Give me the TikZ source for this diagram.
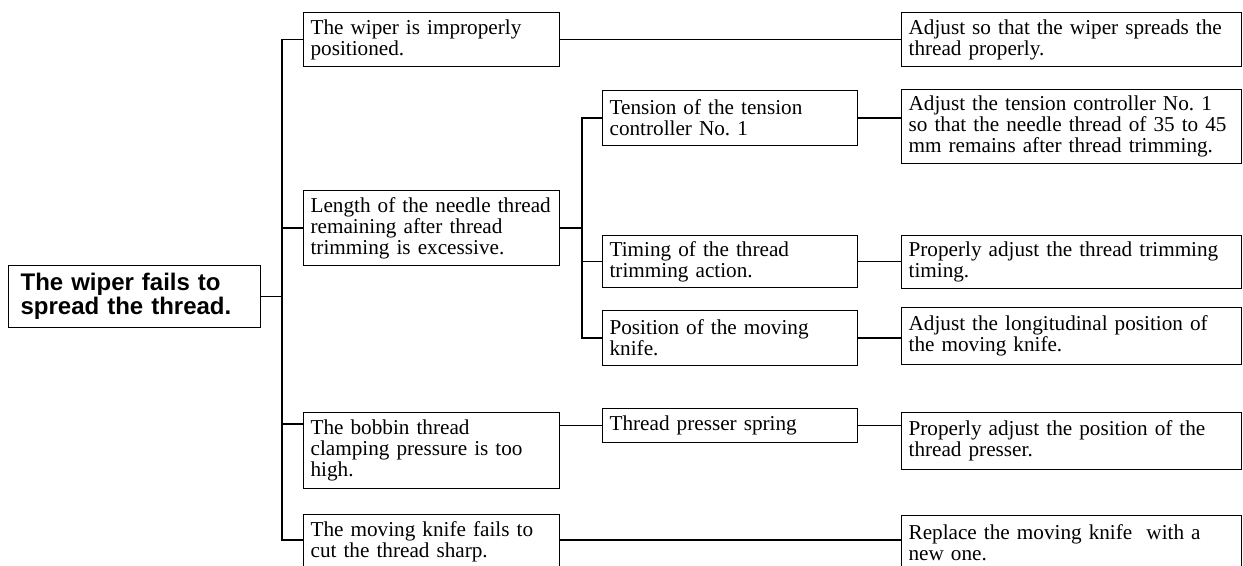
\documentclass[tikz,border=0pt]{standalone}
\usepackage{fontspec}
\setmainfont{Liberation Serif}
\newfontfamily\headfont{Liberation Sans}
\usetikzlibrary{positioning}
\frenchspacing

\begin{document}
\begin{tikzpicture}[x=0.5pt, y=-0.5pt, line width=0.6pt,
    box/.style={draw, anchor=north west, align=left, inner xsep=3.5pt, inner ysep=0pt,
      font=\fontsize{10.6}{10.5}\selectfont},
    cause/.style={box, text width=121pt},
    check/.style={box, text width=120.5pt},
    remedy/.style={box, text width=163pt, inner xsep=3.5pt},
    fault/.style={box, text width=114pt, inner xsep=6pt,
      font=\headfont\bfseries\fontsize{12}{11}\selectfont}]
    \useasboundingbox (0,0) rectangle (1243,566);

    % Nodes
    \node[fault, minimum height=31pt] (fault) at (8,265) {The wiper fails to\\spread the thread.};

    \node[cause, minimum height=27pt] (wiper) at (303,12) {The wiper is improperly\\positioned.};
    \node[cause, minimum height=37.5pt] (length) at (303,190) {Length of the needle thread\\remaining after thread\\trimming is excessive.};
    \node[cause, minimum height=38pt] (bobbin) at (303,412) {The bobbin thread\\clamping pressure is too\\high.};
    \node[cause, minimum height=27pt] (knife) at (303,514) {The moving knife fails to\\cut the thread sharp.};

    \node[check, minimum height=27.5pt] (tension) at (602,90) {Tension of the tension\\controller No. 1};
    \node[check, minimum height=26pt] (timing) at (602,235) {Timing of the thread\\trimming action.};
    \node[check, minimum height=27.5pt] (position) at (602,310) {Position of the moving\\knife.};
    \node[check, minimum height=17pt] (spring) at (602,408) {Thread presser spring};

    \node[remedy, minimum height=27pt] (fixwiper) at (901,12) {Adjust so that the wiper spreads the\\thread properly.};
    \node[remedy, minimum height=37pt] (fixtension) at (901,89) {Adjust the tension controller No. 1\\so that the needle thread of 35 to 45\\mm remains after thread trimming.};
    \node[remedy, minimum height=26.5pt] (fixtiming) at (901,235) {Properly adjust the thread trimming\\timing.};
    \node[remedy, minimum height=28.5pt] (fixposition) at (901,307) {Adjust the longitudinal position of\\the moving knife.};
    \node[remedy, minimum height=28.5pt] (fixspring) at (901,412) {Properly adjust the position of the\\thread presser.};
    \node[remedy, minimum height=27pt] (fixknife) at (901,515) {Replace the moving knife~ with a\\new one.};

    % Trunk lines
    \coordinate (trunk) at (282,0);
    \coordinate (sub) at (582,0);
    \coordinate (bobbinin) at ([yshift=-6pt]bobbin.north west);
    \coordinate (knifein) at ([yshift=-13pt]knife.north west);

    % Edges
    \draw (fault.east) -- (trunk |- fault.east);
    \draw (wiper.west) -| (trunk |- knifein) -- (knifein);
    \draw (trunk |- length.west) -- (length.west);
    \draw (trunk |- bobbinin) -- (bobbinin);

    \draw (length.east) -- (sub |- length.east);
    \draw (tension.west) -| (sub |- position.west) -- (position.west);
    \draw (sub |- timing.west) -- (timing.west);
    \draw (bobbin.east |- spring.west) -- (spring.west);

    \draw (wiper.east) -- (fixwiper.west);
    \draw (tension.east) -- (tension.east -| fixtension.west);
    \draw (timing.east) -- (timing.east -| fixtiming.west);
    \draw (position.east) -- (position.east -| fixposition.west);
    \draw (spring.east) -- (spring.east -| fixspring.west);
    \draw (knifein -| knife.east) -- (knifein -| fixknife.west);
\end{tikzpicture}
\end{document}
